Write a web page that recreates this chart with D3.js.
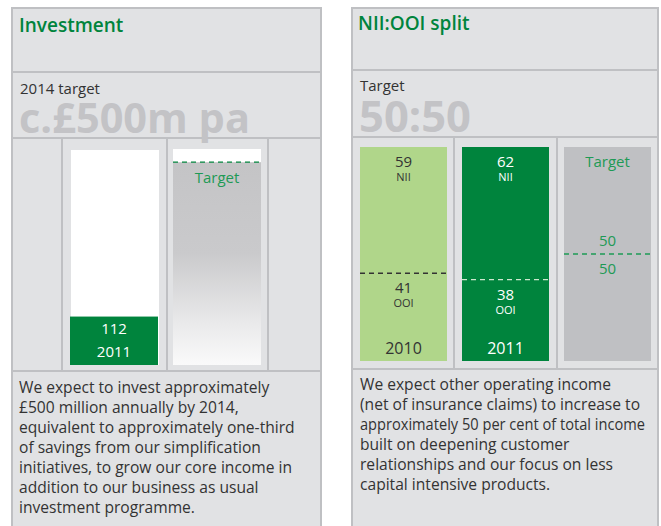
<!DOCTYPE html>
<html>
<head>
<meta charset="utf-8">
<script src="https://cdn.jsdelivr.net/npm/d3@7"></script>
<style>
  body { margin: 0; background: #fff; }
  svg { display: block; font-family: 'Open Sans', Lato, sans-serif; }
</style>
</head>
<body>
<svg id="chart" width="661" height="526"></svg>
<script>
// data
const invCategories = ['2011', 'Target']
const invValues = [112]
const invTarget = 500
const splitCategories = ['2010', '2011', 'Target']
const niiValues = [59, 62, 50]
const ooiValues = [41, 38, 50]
const leftText = ['We expect to invest approximately', '£500 million annually by 2014,',
  'equivalent to approximately one-third', 'of savings from our simplification',
  'initiatives, to grow our core income in', 'addition to our business as usual',
  'investment programme.']
const rightText = ['We expect other operating income', '(net of insurance claims) to increase to',
  'approximately 50 per cent of total income', 'built on deepening customer',
  'relationships and our focus on less', 'capital intensive products.']

const panelBg = '#e1e2e4', border = '#bfc0c3', green = '#00843d', lightGreen = '#b0d68a',
  greyBig = '#c3c3c6', textCol = '#333'

const svg = d3.select('#chart')

const defs = svg.append('defs')
const grad = defs.append('linearGradient').attr('id', 'fade')
  .attr('x1', 0).attr('y1', 0).attr('x2', 0).attr('y2', 1)
grad.append('stop').attr('offset', '0%').attr('stop-color', '#c4c4c6')
grad.append('stop').attr('offset', '45%').attr('stop-color', '#cacacc')
grad.append('stop').attr('offset', '80%').attr('stop-color', '#eaeaeb')
grad.append('stop').attr('offset', '100%').attr('stop-color', '#fafafa')

function panel(x0, x1, ys, cols) {
  const g = svg.append('g')
  g.append('rect').attr('x', x0).attr('y', ys[0]).attr('width', x1 - x0).attr('height', 526 - ys[0])
    .attr('fill', panelBg)
  // outer border, open at the bottom
  g.append('path')
    .attr('d', `M${x0},526V${ys[0]}H${x1}V526`)
    .attr('fill', 'none').attr('stroke', border).attr('stroke-width', 2)
  ys.slice(1).forEach(y => {
    g.append('line').attr('x1', x0).attr('x2', x1).attr('y1', y).attr('y2', y)
      .attr('stroke', border).attr('stroke-width', 2)
  })
  cols.forEach(x => {
    g.append('line').attr('x1', x).attr('x2', x).attr('y1', ys[2]).attr('y2', ys[3])
      .attr('stroke', border).attr('stroke-width', 2)
  })
  return g
}

// squeeze or stretch a text to the width it has in the picture
function fitWidth(sel, w) {
  const len = sel.node().getComputedTextLength()
  const fs = parseFloat(sel.style('font-size'))
  sel.style('font-size', (fs * w / len) + 'px')
}

function bodyText(g, x, y, lines, tight) {
  const t = g.append('text').attr('x', x).attr('y', y).attr('fill', textCol)
    .style('font-size', '15.6px')
  t.selectAll('tspan').data(lines).join('tspan')
    .attr('x', x).attr('dy', (d, i) => i ? 20 : 0).text(d => d)
    .each(function(d, i) {
      // the one line that is set tighter in the original
      if (tight && tight[0] === i) d3.select(this).attr('textLength', tight[1]).attr('lengthAdjust', 'spacingAndGlyphs')
    })
}

// ---------- left panel: Investment
const L = panel(12, 321, [8, 72, 138, 371], [62, 167, 268])
L.append('text').attr('x', 19).attr('y', 32).attr('fill', green)
  .style('font-size', '19px').style('font-weight', 600).text('Investment')
L.append('text').attr('x', 20).attr('y', 94).attr('fill', textCol)
  .style('font-size', '15px').text('2014 target')
L.append('text').attr('x', 19).attr('y', 133).attr('fill', greyBig)
  .style('font-size', '36px').style('font-weight', 700).text('c.£500m pa')
  .call(fitWidth, 231)

const xInv = d3.scaleBand().domain(invCategories).range([62, 268])
const yInv = d3.scaleLinear().domain([0, 530]).range([365, 150])
const barW = 88

L.append('rect').attr('x', xInv('2011') + 9).attr('y', yInv(530)).attr('width', barW)
  .attr('height', yInv(0) - yInv(530)).attr('fill', '#fff')
L.selectAll('rect.inv').data(invValues).join('rect').attr('class', 'inv')
  .attr('x', xInv('2011') + 8).attr('y', d => yInv(d) - 3).attr('width', barW)
  .attr('height', d => yInv(0) - yInv(d) + 3).attr('fill', green)
L.append('text').attr('x', xInv('2011') + 8 + barW / 2).attr('y', yInv(invValues[0]) + 14)
  .attr('text-anchor', 'middle').attr('fill', '#fff').style('font-size', '15px').text(invValues[0])
L.append('text').attr('x', xInv('2011') + 8 + barW / 2).attr('y', yInv(0) - 8)
  .attr('text-anchor', 'middle').attr('fill', '#fff').style('font-size', '15px').text('2011')

const tx = xInv('Target') + 8
L.append('rect').attr('x', tx).attr('y', yInv(530) - 1).attr('width', barW)
  .attr('height', yInv(0) - yInv(530) + 1).attr('fill', '#fff')
L.append('rect').attr('x', tx).attr('y', yInv(invTarget)).attr('width', barW)
  .attr('height', yInv(0) - yInv(invTarget)).attr('fill', 'url(#fade)')
L.append('line').attr('x1', tx).attr('x2', tx + barW).attr('y1', yInv(invTarget)).attr('y2', yInv(invTarget))
  .attr('stroke', green).attr('stroke-width', 1.3).attr('stroke-dasharray', '5,4')
L.append('text').attr('x', tx + barW / 2).attr('y', yInv(invTarget) + 21)
  .attr('text-anchor', 'middle').attr('fill', '#1e9a55').style('font-size', '15px').text('Target')

bodyText(L, 19, 393, leftText)

// ---------- right panel: NII:OOI split
const R = panel(352, 658, [8, 70, 137, 369], [454, 557])
R.append('text').attr('x', 358).attr('y', 30).attr('fill', green)
  .style('font-size', '19px').style('font-weight', 600).text('NII:OOI split')
R.append('text').attr('x', 360).attr('y', 91).attr('fill', textCol)
  .style('font-size', '15px').text('Target')
R.append('text').attr('x', 359).attr('y', 132).attr('fill', greyBig)
  .style('font-size', '40px').style('font-weight', 700).text('50:50')
  .call(fitWidth, 112)

const xS = d3.scaleBand().domain(splitCategories).range([352, 658])
const yS = d3.scaleLinear().domain([0, 100]).range([361, 147])
const sW = 87
const fills = [lightGreen, green, '#bfc0c3']
const inks = ['#333', '#fff', '#1e9a55']
const dashCol = ['#333', '#cfe8cf', '#1e9a55']

splitCategories.forEach((c, i) => {
  const x = xS(c) + 8, cx = x + sW / 2
  R.append('rect').attr('x', x).attr('y', yS(100)).attr('width', sW)
    .attr('height', yS(0) - yS(100)).attr('fill', fills[i])
  const yb = yS(ooiValues[i])
  R.append('line').attr('x1', x).attr('x2', x + sW).attr('y1', yb).attr('y2', yb)
    .attr('stroke', dashCol[i]).attr('stroke-width', 1.3).attr('stroke-dasharray', '5,4')
  if (c === 'Target') {
    R.append('text').attr('x', cx).attr('y', yS(100) + 20).attr('text-anchor', 'middle')
      .attr('fill', inks[i]).style('font-size', '15px').text('Target')
    R.append('text').attr('x', cx).attr('y', yb - 8).attr('text-anchor', 'middle')
      .attr('fill', inks[i]).style('font-size', '15px').text(niiValues[i])
    R.append('text').attr('x', cx).attr('y', yb + 20).attr('text-anchor', 'middle')
      .attr('fill', inks[i]).style('font-size', '15px').text(ooiValues[i])
  } else {
    R.append('text').attr('x', cx).attr('y', yS(100) + 20).attr('text-anchor', 'middle')
      .attr('fill', inks[i]).style('font-size', '15px').text(niiValues[i])
    R.append('text').attr('x', cx).attr('y', yS(100) + 34).attr('text-anchor', 'middle')
      .attr('fill', inks[i]).style('font-size', '11px').text('NII')
    R.append('text').attr('x', cx).attr('y', yb + 20).attr('text-anchor', 'middle')
      .attr('fill', inks[i]).style('font-size', '15px').text(ooiValues[i])
    R.append('text').attr('x', cx).attr('y', yb + 34).attr('text-anchor', 'middle')
      .attr('fill', inks[i]).style('font-size', '11px').text('OOI')
    R.append('text').attr('x', cx).attr('y', yS(0) - 7).attr('text-anchor', 'middle')
      .attr('fill', inks[i]).style('font-size', '16px').text(c)
  }
})

bodyText(R, 360, 390, rightText, [2, 285])
</script>
</body>
</html>
